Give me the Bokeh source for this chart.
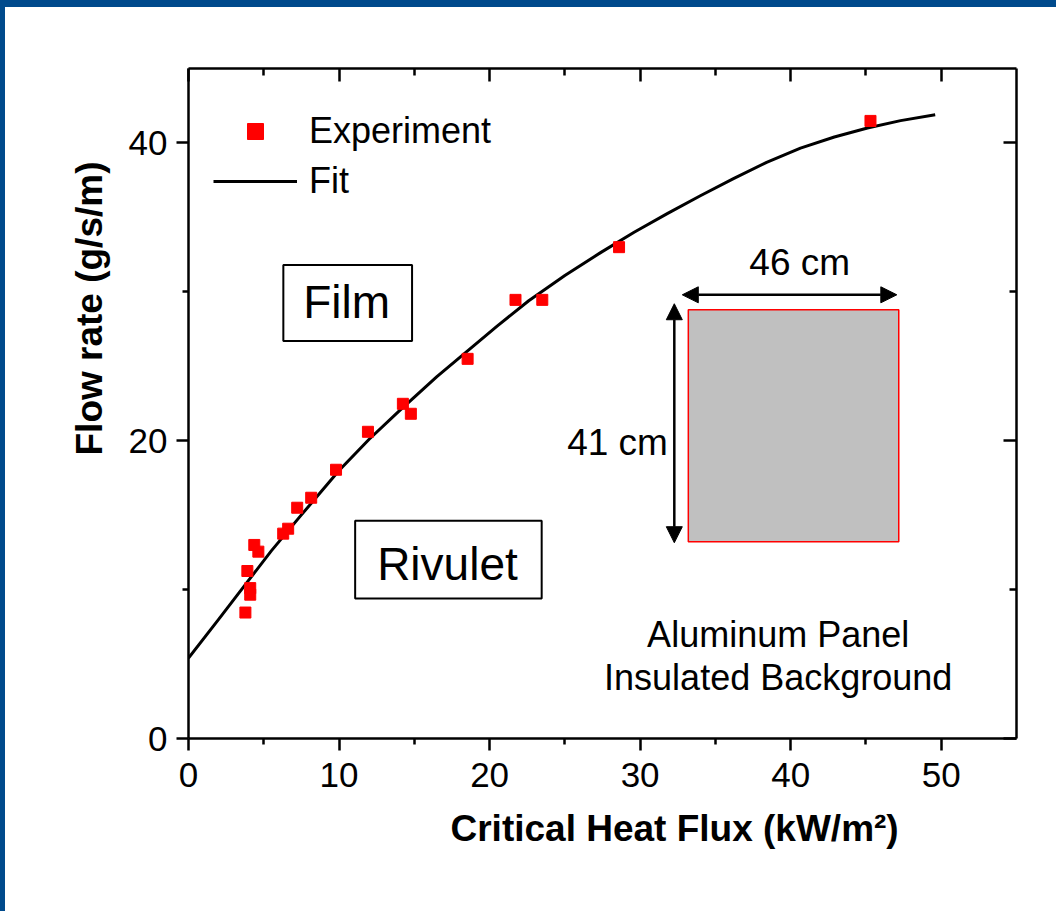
from bokeh.plotting import figure
from bokeh.models import (Range1d, LinearAxis, FixedTicker, Label, Arrow, NormalHead,
                          BoxAnnotation, Legend, LegendItem, Spacer, Title)
from bokeh.layouts import column, row
from bokeh.embed import file_html
from bokeh.resources import INLINE

# ---- data ----
exp_flux = [3.78, 3.91, 4.10, 4.10, 4.37, 4.64, 6.29, 6.62, 7.22, 8.15, 9.80, 11.92,
            14.24, 14.77, 18.54, 21.72, 23.50, 28.60, 45.30]
exp_flow = [8.46, 11.25, 10.10, 9.66, 13.00, 12.55, 13.76, 14.09, 15.50, 16.17, 18.05, 20.60,
            22.48, 21.81, 25.50, 29.46, 29.46, 33.00, 41.48]

fit_flux = [0.0, 2.0, 3.9, 5.5, 7.4, 10.0, 12.0, 14.0, 16.5, 18.5, 20.5, 22.6, 25.0,
            27.4, 29.6, 31.8, 34.0, 36.2, 38.4, 40.65, 42.9, 45.1, 47.3, 49.6]
fit_flow = [5.4, 8.0, 10.5, 12.6, 14.9, 18.0, 20.1, 22.0, 24.3, 26.0, 27.7, 29.4, 31.1,
            32.65, 34.0, 35.25, 36.45, 37.6, 38.7, 39.65, 40.4, 41.0, 41.5, 41.9]

x_major = [0, 10, 20, 30, 40, 50]
x_minor = [5, 15, 25, 35, 45]
y_major = [0, 20, 40]
y_minor = [10, 30]

FONT = "Liberation Sans"
BLUE = "#004A8C"

p = figure(width=1051, height=904, x_range=Range1d(0, 55), y_range=Range1d(0, 45),
           output_backend="svg", toolbar_location=None,
           x_axis_location=None, y_axis_location=None,
           min_border_left=183, min_border_right=40, min_border_top=61, min_border_bottom=173)
p.xgrid.visible = False
p.ygrid.visible = False
p.outline_line_color = None
p.background_fill_color = "white"
p.border_fill_color = "white"


def style_axis(ax, major_in, major_out, minor_in, minor_out, labels=True):
    ax.axis_line_width = 2.5
    ax.axis_line_color = "black"
    ax.major_tick_line_width = 2.5
    ax.minor_tick_line_width = 2.5
    ax.major_tick_in = major_in
    ax.major_tick_out = major_out
    ax.minor_tick_in = minor_in
    ax.minor_tick_out = minor_out
    ax.major_label_text_font = FONT
    ax.major_label_text_font_size = "35px"
    ax.major_label_text_color = "black"
    if not labels:
        ax.major_label_text_color = None
        ax.major_label_text_font_size = "0px"
        ax.major_label_standoff = 0


xb = LinearAxis(ticker=FixedTicker(ticks=x_major, minor_ticks=x_minor))
style_axis(xb, 0, 12, 0, 6)
xb.major_label_standoff = 12
p.add_layout(xb, "below")

xt = LinearAxis(ticker=FixedTicker(ticks=x_major, minor_ticks=x_minor))
style_axis(xt, 13, 0, 7, 0, labels=False)
p.add_layout(xt, "above")

yl = LinearAxis(ticker=FixedTicker(ticks=y_major, minor_ticks=y_minor))
style_axis(yl, 0, 12, 0, 6)
yl.major_label_standoff = 9
p.add_layout(yl, "left")

yr = LinearAxis(ticker=FixedTicker(ticks=y_major, minor_ticks=y_minor))
style_axis(yr, 13, 0, 7, 0, labels=False)
p.add_layout(yr, "right")

# axis titles
p.add_layout(Title(text="Critical Heat Flux (kW/m²)", align="left", offset=262, standoff=32,
                   text_font=FONT, text_font_size="37px", text_font_style="bold",
                   text_color="black"), "below")
p.add_layout(Title(text="Flow rate (g/s/m)", align="left", offset=283, standoff=31,
                   text_font=FONT, text_font_size="37px", text_font_style="bold",
                   text_color="black"), "left")

# ---- inset panel ----
p.add_layout(BoxAnnotation(left=33.2, right=47.18, bottom=13.22, top=28.79,
                           fill_color="#C0C0C0", fill_alpha=1.0,
                           line_color="#FF0000", line_alpha=1.0, line_width=1.5))
head = dict(size=16, fill_color="black", line_color="black")
p.add_layout(Arrow(x_start=32.8, y_start=29.8, x_end=47.05, y_end=29.8,
                   start=NormalHead(**head), end=NormalHead(**head),
                   line_width=2.5, line_color="black"))
p.add_layout(Arrow(x_start=32.27, y_start=29.2, x_end=32.27, y_end=13.15,
                   start=NormalHead(**head), end=NormalHead(**head),
                   line_width=2.5, line_color="black"))

# ---- regime boxes ----
for l, r, b, t in [(6.3, 14.85, 26.7, 31.8), (11.07, 23.46, 9.4, 14.63)]:
    p.add_layout(BoxAnnotation(left=l, right=r, bottom=b, top=t,
                               fill_color="white", fill_alpha=1.0,
                               line_color="black", line_alpha=1.0, line_width=2))

# ---- series ----
r_fit = p.line(fit_flux, fit_flow, line_width=3, line_color="black", line_join="round")
r_exp = p.scatter(exp_flux, exp_flow, marker="square", size=11,
                  fill_color="#FF0000", line_color="#FF0000")

legend = Legend(items=[LegendItem(label="Experiment", renderers=[r_exp]),
                       LegendItem(label="Fit", renderers=[r_fit])],
                location=(25, 536), orientation="vertical",
                border_line_color=None, background_fill_alpha=0.0,
                padding=0, margin=0, spacing=8,
                glyph_width=84, glyph_height=40, label_height=40, label_standoff=12,
                label_text_font=FONT, label_text_font_size="36px",
                label_text_color="black", label_text_baseline="middle")
p.add_layout(legend)


def lab(x, y, text, size):
    p.add_layout(Label(x=x, y=y, text=text, text_font=FONT, text_font_size=size,
                       text_align="center", text_baseline="middle", text_color="black"))


lab(10.5, 29.3, "Film", "46px")
lab(17.2, 11.74, "Rivulet", "46px")
lab(40.6, 31.95, "46 cm", "37px")
lab(28.5, 19.9, "41 cm", "37px")
lab(39.17, 6.98, "Aluminum Panel", "36px")
lab(39.17, 4.09, "Insulated Background", "36px")

top_band = Spacer(width=1056, height=7, styles={"background-color": BLUE})
left_band = Spacer(width=5, height=904, styles={"background-color": BLUE})
layout = column(top_band, row(left_band, p, spacing=0), spacing=0)

open("out.html", "w").write(file_html(layout, INLINE))
